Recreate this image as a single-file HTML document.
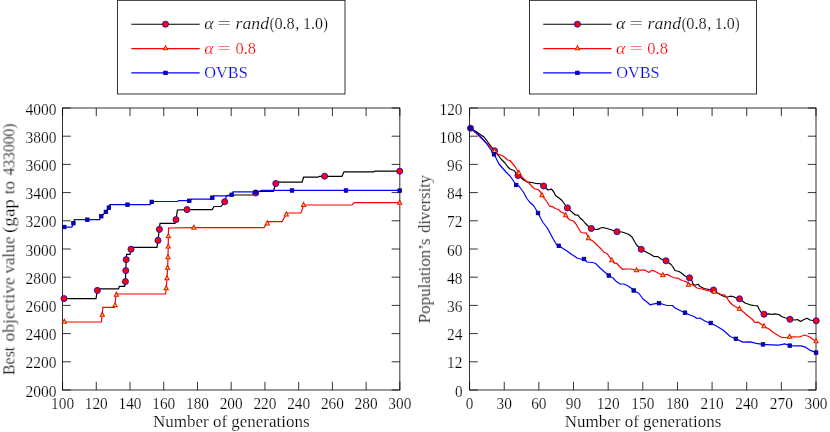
<!DOCTYPE html>
<html><head><meta charset="utf-8"><title>Figure</title>
<style>
html,body{margin:0;padding:0;background:#fff;}
body{width:830px;height:432px;overflow:hidden;font-family:"Liberation Serif",serif;}
svg{display:block;}
text{font-family:"Liberation Serif",serif;font-size:15.6px;filter:url(#tb);stroke:#fff;stroke-width:0.2px;}
.i{font-style:italic;}
</style></head><body>
<svg width="830" height="432" viewBox="0 0 830 432">
<defs><filter id="tb" x="-5%" y="-20%" width="110%" height="140%"><feGaussianBlur stdDeviation="0.3"/></filter></defs>
<rect width="830" height="432" fill="#fff"/>
<rect x="117.6" y="0.3" width="227.4" height="93.7" fill="#fff" stroke="#000" stroke-width="0.8"/>
<path d="M131.3,24.2H199.7" stroke="#000" stroke-width="1.15"/>
<path d="M131.3,48.6H199.7" stroke="#f00" stroke-width="1.15"/>
<path d="M131.3,72.9H199.7" stroke="#00f" stroke-width="1.15"/>
<circle cx="165.5" cy="24.2" r="3.05" fill="#f00" stroke="#1010d0" stroke-width="0.9"/>
<path d="M165.5,45.75L167.62,49.8L163.38,49.8Z" fill="#ffee00" stroke="#e21414" stroke-width="1.02" stroke-linejoin="miter"/>
<rect x="163.75" y="71.15" width="3.5" height="3.5" fill="#0000f0" stroke="#000068" stroke-width="0.8"/>
<text x="204.2" y="28.8" fill="#000" class="i" style="font-size:17px" textLength="9.4" lengthAdjust="spacingAndGlyphs">α</text>
<text x="217.6" y="28.8" fill="#000" style="font-size:17px" textLength="13.6" lengthAdjust="spacingAndGlyphs">=</text>
<text x="204.2" y="53.5" fill="#f00" class="i" style="font-size:17px" textLength="9.4" lengthAdjust="spacingAndGlyphs">α</text>
<text x="217.6" y="53.5" fill="#f00" style="font-size:17px" textLength="13.6" lengthAdjust="spacingAndGlyphs">=</text>
<text x="235.6" y="28.8" fill="#000" class="i" style="font-size:17px" textLength="33.5" lengthAdjust="spacingAndGlyphs">rand</text>
<text x="269.8" y="28.8" fill="#000" style="font-size:17px" textLength="4.6" lengthAdjust="spacingAndGlyphs">(</text>
<text x="274.4" y="28.8" fill="#000" style="font-size:16.4px" textLength="20.4" lengthAdjust="spacingAndGlyphs">0.8</text>
<text x="295.6" y="28.8" fill="#000" style="font-size:16.4px" textLength="3.8" lengthAdjust="spacingAndGlyphs">,</text>
<text x="302.9" y="28.8" fill="#000" style="font-size:16.4px" textLength="20.0" lengthAdjust="spacingAndGlyphs">1.0</text>
<text x="323.2" y="28.8" fill="#000" style="font-size:17px" textLength="4.6" lengthAdjust="spacingAndGlyphs">)</text>
<text x="235.4" y="53.5" fill="#f00" style="font-size:16.4px" textLength="20.6" lengthAdjust="spacingAndGlyphs">0.8</text>
<text x="204.3" y="78.3" fill="#00f" style="font-size:17px" textLength="43.4" lengthAdjust="spacingAndGlyphs">OVBS</text>
<rect x="529.6" y="0.3" width="227" height="93.7" fill="#fff" stroke="#000" stroke-width="0.8"/>
<path d="M543.2,24.2H611.6" stroke="#000" stroke-width="1.15"/>
<path d="M543.2,48.6H611.6" stroke="#f00" stroke-width="1.15"/>
<path d="M543.2,72.9H611.6" stroke="#00f" stroke-width="1.15"/>
<circle cx="577.4" cy="24.2" r="3.05" fill="#f00" stroke="#1010d0" stroke-width="0.9"/>
<path d="M577.4,45.75L579.52,49.8L575.28,49.8Z" fill="#ffee00" stroke="#e21414" stroke-width="1.02" stroke-linejoin="miter"/>
<rect x="575.65" y="71.15" width="3.5" height="3.5" fill="#0000f0" stroke="#000068" stroke-width="0.8"/>
<text x="616.1" y="28.8" fill="#000" class="i" style="font-size:17px" textLength="9.4" lengthAdjust="spacingAndGlyphs">α</text>
<text x="629.5" y="28.8" fill="#000" style="font-size:17px" textLength="13.6" lengthAdjust="spacingAndGlyphs">=</text>
<text x="616.1" y="53.5" fill="#f00" class="i" style="font-size:17px" textLength="9.4" lengthAdjust="spacingAndGlyphs">α</text>
<text x="629.5" y="53.5" fill="#f00" style="font-size:17px" textLength="13.6" lengthAdjust="spacingAndGlyphs">=</text>
<text x="647.5" y="28.8" fill="#000" class="i" style="font-size:17px" textLength="33.5" lengthAdjust="spacingAndGlyphs">rand</text>
<text x="681.7" y="28.8" fill="#000" style="font-size:17px" textLength="4.6" lengthAdjust="spacingAndGlyphs">(</text>
<text x="686.3" y="28.8" fill="#000" style="font-size:16.4px" textLength="20.4" lengthAdjust="spacingAndGlyphs">0.8</text>
<text x="707.5" y="28.8" fill="#000" style="font-size:16.4px" textLength="3.8" lengthAdjust="spacingAndGlyphs">,</text>
<text x="714.8" y="28.8" fill="#000" style="font-size:16.4px" textLength="20.0" lengthAdjust="spacingAndGlyphs">1.0</text>
<text x="735.1" y="28.8" fill="#000" style="font-size:17px" textLength="4.6" lengthAdjust="spacingAndGlyphs">)</text>
<text x="647.3" y="53.5" fill="#f00" style="font-size:16.4px" textLength="20.6" lengthAdjust="spacingAndGlyphs">0.8</text>
<text x="616.2" y="78.3" fill="#00f" style="font-size:17px" textLength="43.4" lengthAdjust="spacingAndGlyphs">OVBS</text>
<rect x="62.55" y="108.0" width="337.3" height="282" fill="none" stroke="#000" stroke-width="0.8"/>
<path d="M62.55,390.0v-8.2M62.55,108.0v8.2M96.28,390.0v-8.2M96.28,108.0v8.2M130.01,390.0v-8.2M130.01,108.0v8.2M163.74,390.0v-8.2M163.74,108.0v8.2M197.47,390.0v-8.2M197.47,108.0v8.2M231.2,390.0v-8.2M231.2,108.0v8.2M264.93,390.0v-8.2M264.93,108.0v8.2M298.66,390.0v-8.2M298.66,108.0v8.2M332.39,390.0v-8.2M332.39,108.0v8.2M366.12,390.0v-8.2M366.12,108.0v8.2M399.85,390.0v-8.2M399.85,108.0v8.2M62.55,390h8.2M399.85,390h-8.2M62.55,361.8h8.2M399.85,361.8h-8.2M62.55,333.6h8.2M399.85,333.6h-8.2M62.55,305.4h8.2M399.85,305.4h-8.2M62.55,277.2h8.2M399.85,277.2h-8.2M62.55,249h8.2M399.85,249h-8.2M62.55,220.8h8.2M399.85,220.8h-8.2M62.55,192.6h8.2M399.85,192.6h-8.2M62.55,164.4h8.2M399.85,164.4h-8.2M62.55,136.2h8.2M399.85,136.2h-8.2M62.55,108h8.2M399.85,108h-8.2" stroke="#000" stroke-width="0.8" fill="none"/>
<rect x="469.6" y="108.0" width="346.4" height="282" fill="none" stroke="#000" stroke-width="0.8"/>
<path d="M469.6,390.0v-8.2M469.6,108.0v8.2M504.24,390.0v-8.2M504.24,108.0v8.2M538.88,390.0v-8.2M538.88,108.0v8.2M573.52,390.0v-8.2M573.52,108.0v8.2M608.16,390.0v-8.2M608.16,108.0v8.2M642.8,390.0v-8.2M642.8,108.0v8.2M677.44,390.0v-8.2M677.44,108.0v8.2M712.08,390.0v-8.2M712.08,108.0v8.2M746.72,390.0v-8.2M746.72,108.0v8.2M781.36,390.0v-8.2M781.36,108.0v8.2M816,390.0v-8.2M816,108.0v8.2M469.6,390h8.2M816.0,390h-8.2M469.6,361.8h8.2M816.0,361.8h-8.2M469.6,333.6h8.2M816.0,333.6h-8.2M469.6,305.4h8.2M816.0,305.4h-8.2M469.6,277.2h8.2M816.0,277.2h-8.2M469.6,249h8.2M816.0,249h-8.2M469.6,220.8h8.2M816.0,220.8h-8.2M469.6,192.6h8.2M816.0,192.6h-8.2M469.6,164.4h8.2M816.0,164.4h-8.2M469.6,136.2h8.2M816.0,136.2h-8.2M469.6,108h8.2M816.0,108h-8.2" stroke="#000" stroke-width="0.8" fill="none"/>
<text x="56.5" y="396.5" text-anchor="end" fill="#000" textLength="31" lengthAdjust="spacingAndGlyphs" style="font-size:16.4px">2000</text>
<text x="56.5" y="368.3" text-anchor="end" fill="#000" textLength="31" lengthAdjust="spacingAndGlyphs" style="font-size:16.4px">2200</text>
<text x="56.5" y="340.1" text-anchor="end" fill="#000" textLength="31" lengthAdjust="spacingAndGlyphs" style="font-size:16.4px">2400</text>
<text x="56.5" y="311.9" text-anchor="end" fill="#000" textLength="31" lengthAdjust="spacingAndGlyphs" style="font-size:16.4px">2600</text>
<text x="56.5" y="283.7" text-anchor="end" fill="#000" textLength="31" lengthAdjust="spacingAndGlyphs" style="font-size:16.4px">2800</text>
<text x="56.5" y="255.5" text-anchor="end" fill="#000" textLength="31" lengthAdjust="spacingAndGlyphs" style="font-size:16.4px">3000</text>
<text x="56.5" y="227.3" text-anchor="end" fill="#000" textLength="31" lengthAdjust="spacingAndGlyphs" style="font-size:16.4px">3200</text>
<text x="56.5" y="199.1" text-anchor="end" fill="#000" textLength="31" lengthAdjust="spacingAndGlyphs" style="font-size:16.4px">3400</text>
<text x="56.5" y="170.9" text-anchor="end" fill="#000" textLength="31" lengthAdjust="spacingAndGlyphs" style="font-size:16.4px">3600</text>
<text x="56.5" y="142.7" text-anchor="end" fill="#000" textLength="31" lengthAdjust="spacingAndGlyphs" style="font-size:16.4px">3800</text>
<text x="56.5" y="114.5" text-anchor="end" fill="#000" textLength="31" lengthAdjust="spacingAndGlyphs" style="font-size:16.4px">4000</text>
<text x="62.55" y="409" text-anchor="middle" fill="#000" textLength="23" lengthAdjust="spacingAndGlyphs" style="font-size:16.4px">100</text>
<text x="96.28" y="409" text-anchor="middle" fill="#000" textLength="23" lengthAdjust="spacingAndGlyphs" style="font-size:16.4px">120</text>
<text x="130.01" y="409" text-anchor="middle" fill="#000" textLength="23" lengthAdjust="spacingAndGlyphs" style="font-size:16.4px">140</text>
<text x="163.74" y="409" text-anchor="middle" fill="#000" textLength="23" lengthAdjust="spacingAndGlyphs" style="font-size:16.4px">160</text>
<text x="197.47" y="409" text-anchor="middle" fill="#000" textLength="23" lengthAdjust="spacingAndGlyphs" style="font-size:16.4px">180</text>
<text x="231.2" y="409" text-anchor="middle" fill="#000" textLength="23" lengthAdjust="spacingAndGlyphs" style="font-size:16.4px">200</text>
<text x="264.93" y="409" text-anchor="middle" fill="#000" textLength="23" lengthAdjust="spacingAndGlyphs" style="font-size:16.4px">220</text>
<text x="298.66" y="409" text-anchor="middle" fill="#000" textLength="23" lengthAdjust="spacingAndGlyphs" style="font-size:16.4px">240</text>
<text x="332.39" y="409" text-anchor="middle" fill="#000" textLength="23" lengthAdjust="spacingAndGlyphs" style="font-size:16.4px">260</text>
<text x="366.12" y="409" text-anchor="middle" fill="#000" textLength="23" lengthAdjust="spacingAndGlyphs" style="font-size:16.4px">280</text>
<text x="399.85" y="409" text-anchor="middle" fill="#000" textLength="23" lengthAdjust="spacingAndGlyphs" style="font-size:16.4px">300</text>
<text x="231.3" y="426.8" text-anchor="middle" fill="#000" textLength="156.6" lengthAdjust="spacingAndGlyphs" style="font-size:17px">Number of generations</text>
<text transform="translate(14.4,375.1) rotate(-90)" style="font-size:17px" textLength="28.3" lengthAdjust="spacingAndGlyphs">Best</text>
<text transform="translate(14.4,341.5) rotate(-90)" style="font-size:17px" textLength="64.2" lengthAdjust="spacingAndGlyphs">objective</text>
<text transform="translate(14.4,273.6) rotate(-90)" style="font-size:17px" textLength="37" lengthAdjust="spacingAndGlyphs">value</text>
<text transform="translate(14.4,233) rotate(-90)" style="font-size:17px" textLength="33.9" lengthAdjust="spacingAndGlyphs">(gap</text>
<text transform="translate(14.4,194.3) rotate(-90)" style="font-size:17px" textLength="13.1" lengthAdjust="spacingAndGlyphs">to</text>
<text transform="translate(14.4,175.5) rotate(-90)" style="font-size:17px" textLength="52.05" lengthAdjust="spacingAndGlyphs">433000)</text>
<text x="462.5" y="396.5" text-anchor="end" fill="#000" textLength="7.6" lengthAdjust="spacingAndGlyphs" style="font-size:16.4px">0</text>
<text x="462.5" y="368.3" text-anchor="end" fill="#000" textLength="15.4" lengthAdjust="spacingAndGlyphs" style="font-size:16.4px">12</text>
<text x="462.5" y="340.1" text-anchor="end" fill="#000" textLength="15.4" lengthAdjust="spacingAndGlyphs" style="font-size:16.4px">24</text>
<text x="462.5" y="311.9" text-anchor="end" fill="#000" textLength="15.4" lengthAdjust="spacingAndGlyphs" style="font-size:16.4px">36</text>
<text x="462.5" y="283.7" text-anchor="end" fill="#000" textLength="15.4" lengthAdjust="spacingAndGlyphs" style="font-size:16.4px">48</text>
<text x="462.5" y="255.5" text-anchor="end" fill="#000" textLength="15.4" lengthAdjust="spacingAndGlyphs" style="font-size:16.4px">60</text>
<text x="462.5" y="227.3" text-anchor="end" fill="#000" textLength="15.4" lengthAdjust="spacingAndGlyphs" style="font-size:16.4px">72</text>
<text x="462.5" y="199.1" text-anchor="end" fill="#000" textLength="15.4" lengthAdjust="spacingAndGlyphs" style="font-size:16.4px">84</text>
<text x="462.5" y="170.9" text-anchor="end" fill="#000" textLength="15.4" lengthAdjust="spacingAndGlyphs" style="font-size:16.4px">96</text>
<text x="462.5" y="142.7" text-anchor="end" fill="#000" textLength="23" lengthAdjust="spacingAndGlyphs" style="font-size:16.4px">108</text>
<text x="462.5" y="114.5" text-anchor="end" fill="#000" textLength="23" lengthAdjust="spacingAndGlyphs" style="font-size:16.4px">120</text>
<text x="469.6" y="409" text-anchor="middle" fill="#000" textLength="7.6" lengthAdjust="spacingAndGlyphs" style="font-size:16.4px">0</text>
<text x="504.24" y="409" text-anchor="middle" fill="#000" textLength="15.4" lengthAdjust="spacingAndGlyphs" style="font-size:16.4px">30</text>
<text x="538.88" y="409" text-anchor="middle" fill="#000" textLength="15.4" lengthAdjust="spacingAndGlyphs" style="font-size:16.4px">60</text>
<text x="573.52" y="409" text-anchor="middle" fill="#000" textLength="15.4" lengthAdjust="spacingAndGlyphs" style="font-size:16.4px">90</text>
<text x="608.16" y="409" text-anchor="middle" fill="#000" textLength="23" lengthAdjust="spacingAndGlyphs" style="font-size:16.4px">120</text>
<text x="642.8" y="409" text-anchor="middle" fill="#000" textLength="23" lengthAdjust="spacingAndGlyphs" style="font-size:16.4px">150</text>
<text x="677.44" y="409" text-anchor="middle" fill="#000" textLength="23" lengthAdjust="spacingAndGlyphs" style="font-size:16.4px">180</text>
<text x="712.08" y="409" text-anchor="middle" fill="#000" textLength="23" lengthAdjust="spacingAndGlyphs" style="font-size:16.4px">210</text>
<text x="746.72" y="409" text-anchor="middle" fill="#000" textLength="23" lengthAdjust="spacingAndGlyphs" style="font-size:16.4px">240</text>
<text x="781.36" y="409" text-anchor="middle" fill="#000" textLength="23" lengthAdjust="spacingAndGlyphs" style="font-size:16.4px">270</text>
<text x="816" y="409" text-anchor="middle" fill="#000" textLength="23" lengthAdjust="spacingAndGlyphs" style="font-size:16.4px">300</text>
<text x="643.1" y="426.8" text-anchor="middle" fill="#000" textLength="156.6" lengthAdjust="spacingAndGlyphs" style="font-size:17px">Number of generations</text>
<text transform="translate(429.9,323.4) rotate(-90)" style="font-size:17px" textLength="84.95" lengthAdjust="spacingAndGlyphs">Population’s</text>
<text transform="translate(429.9,232.8) rotate(-90)" style="font-size:17px" textLength="57.9" lengthAdjust="spacingAndGlyphs">diversity</text>
<path d="M64,298.6L96,298.6L97.4,290.4L97.8,288.8L118.6,288.8L119.4,286.4L124.6,286.4L125.4,281.6L125.8,270.6L126.2,259.6L126.6,254.4L130,254.4L131,249.2L131.6,247.4L157,247.4L158,240L159.4,229L160,223.4L175,223.4L176,219.6L177.4,210L187,209.6L212.2,209.6L214,206.5L221,206.5L224.7,201.7L226.5,195.7L229.3,195L253,195L255.7,193L259,191.5L273.3,191.5L275.8,183.5L276.4,182.2L302,182.2L303.6,177.2L318,177.2L319.5,176.3L342,176.3L344,171.8L373.8,171.8L375,171.2L399.7,171.2" fill="none" stroke="#000" stroke-width="1.2" stroke-linejoin="miter"/>
<path d="M64,322L101.4,322L102.2,314.4L102.8,307.4L114.6,307.4L115,305L116,294L165.6,294L166.2,288L167,278L167.6,267.6L168,257L168.2,246.4L168.4,236L168.6,228L193.9,227.7L264,227.7L267.2,223.2L268.9,221.7L282,221.7L286.3,214.2L287,213L301,213L303.6,205L352,205L354.4,202.6L399.7,202.6" fill="none" stroke="#f00" stroke-width="1.2" stroke-linejoin="miter"/>
<path d="M64.3,227.1L71.9,227.1L73.4,223.2L74.4,219.7L99.7,219.7L101.25,216.25L105.9,211.9L108.85,207.65L109.85,204.6L150.2,204.6L151.75,201.9L152.3,201.5L176.8,201.5L178.9,200.7L189.3,200.7L191.5,199.1L210.6,199.1L212.3,197.7L213.5,195.9L230,195.9L231.7,194.75L233,191.8L253.2,191.8L255.7,192L257.5,192L261.6,190.4L399.7,190.4" fill="none" stroke="#00f" stroke-width="1.2" stroke-linejoin="miter"/>
<circle cx="64" cy="298.6" r="3.05" fill="#f00" stroke="#1010d0" stroke-width="0.9"/><circle cx="97.4" cy="290.4" r="3.05" fill="#f00" stroke="#1010d0" stroke-width="0.9"/><circle cx="125.4" cy="281.6" r="3.05" fill="#f00" stroke="#1010d0" stroke-width="0.9"/><circle cx="125.8" cy="270.6" r="3.05" fill="#f00" stroke="#1010d0" stroke-width="0.9"/><circle cx="126.2" cy="259.6" r="3.05" fill="#f00" stroke="#1010d0" stroke-width="0.9"/><circle cx="131" cy="249.2" r="3.05" fill="#f00" stroke="#1010d0" stroke-width="0.9"/><circle cx="158" cy="240.4" r="3.05" fill="#f00" stroke="#1010d0" stroke-width="0.9"/><circle cx="159.4" cy="229.4" r="3.05" fill="#f00" stroke="#1010d0" stroke-width="0.9"/><circle cx="176" cy="219.6" r="3.05" fill="#f00" stroke="#1010d0" stroke-width="0.9"/><circle cx="187" cy="209.6" r="3.05" fill="#f00" stroke="#1010d0" stroke-width="0.9"/><circle cx="224.7" cy="201.7" r="3.05" fill="#f00" stroke="#1010d0" stroke-width="0.9"/><circle cx="255.7" cy="193" r="3.05" fill="#f00" stroke="#1010d0" stroke-width="0.9"/><circle cx="275.8" cy="183.5" r="3.05" fill="#f00" stroke="#1010d0" stroke-width="0.9"/><circle cx="324.6" cy="176.2" r="3.05" fill="#f00" stroke="#1010d0" stroke-width="0.9"/><circle cx="399.7" cy="171.2" r="3.05" fill="#f00" stroke="#1010d0" stroke-width="0.9"/>
<path d="M64.3,319.25L66.42,323.3L62.18,323.3Z" fill="#ffee00" stroke="#e21414" stroke-width="1.02" stroke-linejoin="miter"/><path d="M102.3,312.15L104.42,316.2L100.18,316.2Z" fill="#ffee00" stroke="#e21414" stroke-width="1.02" stroke-linejoin="miter"/><path d="M115.1,302.75L117.22,306.8L112.98,306.8Z" fill="#ffee00" stroke="#e21414" stroke-width="1.02" stroke-linejoin="miter"/><path d="M116.4,292.15L118.52,296.2L114.28,296.2Z" fill="#ffee00" stroke="#e21414" stroke-width="1.02" stroke-linejoin="miter"/><path d="M166.2,285.65L168.32,289.7L164.08,289.7Z" fill="#ffee00" stroke="#e21414" stroke-width="1.02" stroke-linejoin="miter"/><path d="M167,275.65L169.12,279.7L164.88,279.7Z" fill="#ffee00" stroke="#e21414" stroke-width="1.02" stroke-linejoin="miter"/><path d="M167.6,265.25L169.72,269.3L165.48,269.3Z" fill="#ffee00" stroke="#e21414" stroke-width="1.02" stroke-linejoin="miter"/><path d="M168,254.65L170.12,258.7L165.88,258.7Z" fill="#ffee00" stroke="#e21414" stroke-width="1.02" stroke-linejoin="miter"/><path d="M168.2,244.05L170.32,248.1L166.08,248.1Z" fill="#ffee00" stroke="#e21414" stroke-width="1.02" stroke-linejoin="miter"/><path d="M168.4,233.65L170.52,237.7L166.28,237.7Z" fill="#ffee00" stroke="#e21414" stroke-width="1.02" stroke-linejoin="miter"/><path d="M193.9,225.15L196.02,229.2L191.78,229.2Z" fill="#ffee00" stroke="#e21414" stroke-width="1.02" stroke-linejoin="miter"/><path d="M267.2,220.85L269.32,224.9L265.08,224.9Z" fill="#ffee00" stroke="#e21414" stroke-width="1.02" stroke-linejoin="miter"/><path d="M286.3,211.85L288.42,215.9L284.18,215.9Z" fill="#ffee00" stroke="#e21414" stroke-width="1.02" stroke-linejoin="miter"/><path d="M303.6,202.45L305.72,206.5L301.48,206.5Z" fill="#ffee00" stroke="#e21414" stroke-width="1.02" stroke-linejoin="miter"/><path d="M399.7,200.15L401.82,204.2L397.58,204.2Z" fill="#ffee00" stroke="#e21414" stroke-width="1.02" stroke-linejoin="miter"/>
<rect x="62.55" y="225.25" width="3.5" height="3.5" fill="#0000f0" stroke="#000068" stroke-width="0.8"/><rect x="71.65" y="221.45" width="3.5" height="3.5" fill="#0000f0" stroke="#000068" stroke-width="0.8"/><rect x="85.55" y="217.95" width="3.5" height="3.5" fill="#0000f0" stroke="#000068" stroke-width="0.8"/><rect x="99.5" y="214.5" width="3.5" height="3.5" fill="#0000f0" stroke="#000068" stroke-width="0.8"/><rect x="104.15" y="210.15" width="3.5" height="3.5" fill="#0000f0" stroke="#000068" stroke-width="0.8"/><rect x="107.1" y="205.9" width="3.5" height="3.5" fill="#0000f0" stroke="#000068" stroke-width="0.8"/><rect x="125.75" y="202.95" width="3.5" height="3.5" fill="#0000f0" stroke="#000068" stroke-width="0.8"/><rect x="150" y="200.15" width="3.5" height="3.5" fill="#0000f0" stroke="#000068" stroke-width="0.8"/><rect x="187.55" y="199.05" width="3.5" height="3.5" fill="#0000f0" stroke="#000068" stroke-width="0.8"/><rect x="210.55" y="195.95" width="3.5" height="3.5" fill="#0000f0" stroke="#000068" stroke-width="0.8"/><rect x="229.95" y="193" width="3.5" height="3.5" fill="#0000f0" stroke="#000068" stroke-width="0.8"/><rect x="253.95" y="190.45" width="3.5" height="3.5" fill="#0000f0" stroke="#000068" stroke-width="0.8"/><rect x="290.25" y="188.75" width="3.5" height="3.5" fill="#0000f0" stroke="#000068" stroke-width="0.8"/><rect x="344.25" y="188.75" width="3.5" height="3.5" fill="#0000f0" stroke="#000068" stroke-width="0.8"/><rect x="397.95" y="188.85" width="3.5" height="3.5" fill="#0000f0" stroke="#000068" stroke-width="0.8"/>
<path d="M470.5,128.2L476,131.5L481,135L484,137L490,145L494.5,150.8L498.5,155.5L501,159L505,163L507.5,166.5L510,169L514,170.5L518,175.5L522,178.5L523.5,180L527,181.8L532,182.5L536,183.5L540,183.7L543.6,186L548,190L551.5,189.2L553.5,191.5L555.5,195.5L559,198L562,200.5L564.5,204L567.4,207.9L573,213L575,214.8L578,215.2L580,218L583,220.5L585,223L588,226L591.3,228.5L596,229.5L598.5,229.2L600.5,228L603,227.5L607,228.5L611,229.8L617,231.7L622,232L625,233L629,234.5L632,237L634.5,241.5L637,245.5L641.2,249.3L646,252L650,254L654,256.5L658,256.6L661,259L666,260.8L671,264.5L673,267L675,270.5L679,271.5L682,273.5L685,276L689.5,277.8L692,281L693,284L695,285.2L698,284.2L700,286.5L704,288.5L709,289.5L713.5,290L717,292.5L720,294.5L724,296.5L727,297.2L730,296.2L733,296.5L736,298L739.5,298.8L745,303L750,304.8L754,305.5L757.5,305.8L759.5,310L761.5,312.8L764,314.2L769,313.8L772,314.5L774.5,313.8L779,314.5L781.5,316.5L785,317.8L790,319.3L795,320L797.5,319.5L800.5,321.5L804,319.5L807,318.2L810,320L813,320.5L816.2,320.8" fill="none" stroke="#000" stroke-width="1.2" stroke-linejoin="round"/>
<path d="M470.5,128.2L476,133L481,138L487,143.5L491,147.5L494.5,151.2L498,154.2L502,155.5L505,157.5L507.5,160L510,160.5L512.5,163.5L515,166.5L518.8,173L521,176L523,178L526,181L529,183L532,186.5L534.5,188.8L538,189.5L540.5,192L542,195.3L544.5,198.5L547.5,202.5L549.5,206.2L553,206.8L555,208.5L558.5,209.5L561,212L563.5,213L565.7,215.4L567.5,218L570,220L573.5,221L576,224L578.5,228.5L581,232.5L584,233L586,232.8L587.5,235.5L588.5,238.4L592,240.5L595,243L598,246L601,248.8L604,252.3L607,253.5L609.5,257L611.8,260.5L615,263.5L616.5,263L619.5,266.5L622.5,269.3L626,269L630,269L633,269.5L636.5,270.4L640,270.2L645,270.2L649,272.5L651.5,270.4L654,270.8L658,273L662.8,275.2L667.5,274.3L671,276.5L675,278L678,278.2L682,280.5L686,281.5L688.5,283.5L693,285L697,288L702,289L709,290.8L714.3,292L718,293L721,294.5L724,294.8L726,296.5L729,301L732,304.5L735,306.5L739.5,308.9L744,312.5L748,316L752,319L755,322.5L758.5,322.2L761.5,324.5L764,326.5L769,329L772,331.5L775,333.5L779,336L782,337.5L786,337.5L789.6,337L794,336.8L799,337L802,336L804.5,335L808,336.2L811,337.8L813.4,339.8L816.1,341.4" fill="none" stroke="#f00" stroke-width="1.2" stroke-linejoin="round"/>
<path d="M470.5,128.2L476,132.5L481,137L486,143L490,148.5L494,154.3L496,158L499,164L502,167.5L506,172L510,176L512.5,179.5L516.2,185L518.5,185.5L520,187.5L524,193L526.5,198L529.5,202L533.5,205.5L536,209.5L538,213L540.5,218L543,222.5L547,227.5L550,233L553.5,239.5L556.5,244.5L558.8,245.8L563,248.5L567,251L571,254L575,256.5L577,258L581,259.2L584,259L587,262L592,262.5L594.5,263L596,263.8L600,268L604,271.5L608.8,275.5L613,278L616,281.2L620,284L624,284L628,286L631,288L633.7,290.5L639,293.5L643,299L647,302L650,304.8L654,303.8L659,303.2L662,304L667,305.5L672.5,305.5L675,308L680,310.5L685,312.7L690,315L694,316.5L697,318.5L700,318L704,320.5L707,322L710.7,323L715.5,325.5L723,330L730.6,336.8L735.9,338.8L742.7,342.1L750.2,341.8L756.2,343.3L763,344.4L771.3,344.8L778.8,345.1L784.8,343.9L789.8,345.6L795.4,345.9L801.4,345.9L805.9,347.4L810.4,350.4L816.1,352.6" fill="none" stroke="#00f" stroke-width="1.2" stroke-linejoin="round"/>
<circle cx="470.5" cy="128.2" r="3.05" fill="#f00" stroke="#1010d0" stroke-width="0.9"/><circle cx="494.5" cy="150.8" r="3.05" fill="#f00" stroke="#1010d0" stroke-width="0.9"/><circle cx="518" cy="175.5" r="3.05" fill="#f00" stroke="#1010d0" stroke-width="0.9"/><circle cx="543.6" cy="186" r="3.05" fill="#f00" stroke="#1010d0" stroke-width="0.9"/><circle cx="567.4" cy="207.9" r="3.05" fill="#f00" stroke="#1010d0" stroke-width="0.9"/><circle cx="591.3" cy="228.5" r="3.05" fill="#f00" stroke="#1010d0" stroke-width="0.9"/><circle cx="617" cy="231.7" r="3.05" fill="#f00" stroke="#1010d0" stroke-width="0.9"/><circle cx="641.2" cy="249.3" r="3.05" fill="#f00" stroke="#1010d0" stroke-width="0.9"/><circle cx="666" cy="260.8" r="3.05" fill="#f00" stroke="#1010d0" stroke-width="0.9"/><circle cx="689.5" cy="277.8" r="3.05" fill="#f00" stroke="#1010d0" stroke-width="0.9"/><circle cx="713.5" cy="290" r="3.05" fill="#f00" stroke="#1010d0" stroke-width="0.9"/><circle cx="739.5" cy="298.8" r="3.05" fill="#f00" stroke="#1010d0" stroke-width="0.9"/><circle cx="764" cy="314.2" r="3.05" fill="#f00" stroke="#1010d0" stroke-width="0.9"/><circle cx="790" cy="319.3" r="3.05" fill="#f00" stroke="#1010d0" stroke-width="0.9"/><circle cx="816.2" cy="320.8" r="3.05" fill="#f00" stroke="#1010d0" stroke-width="0.9"/>
<path d="M470.5,125.35L472.62,129.4L468.38,129.4Z" fill="#ffee00" stroke="#e21414" stroke-width="1.02" stroke-linejoin="miter"/><path d="M494.5,148.55L496.62,152.6L492.38,152.6Z" fill="#ffee00" stroke="#e21414" stroke-width="1.02" stroke-linejoin="miter"/><path d="M518.8,170.35L520.92,174.4L516.68,174.4Z" fill="#ffee00" stroke="#e21414" stroke-width="1.02" stroke-linejoin="miter"/><path d="M542,192.65L544.12,196.7L539.88,196.7Z" fill="#ffee00" stroke="#e21414" stroke-width="1.02" stroke-linejoin="miter"/><path d="M565.7,212.65L567.82,216.7L563.58,216.7Z" fill="#ffee00" stroke="#e21414" stroke-width="1.02" stroke-linejoin="miter"/><path d="M588.5,235.65L590.62,239.7L586.38,239.7Z" fill="#ffee00" stroke="#e21414" stroke-width="1.02" stroke-linejoin="miter"/><path d="M611.8,257.75L613.92,261.8L609.68,261.8Z" fill="#ffee00" stroke="#e21414" stroke-width="1.02" stroke-linejoin="miter"/><path d="M636.5,267.75L638.62,271.8L634.38,271.8Z" fill="#ffee00" stroke="#e21414" stroke-width="1.02" stroke-linejoin="miter"/><path d="M662.8,272.65L664.92,276.7L660.68,276.7Z" fill="#ffee00" stroke="#e21414" stroke-width="1.02" stroke-linejoin="miter"/><path d="M688.5,282.15L690.62,286.2L686.38,286.2Z" fill="#ffee00" stroke="#e21414" stroke-width="1.02" stroke-linejoin="miter"/><path d="M714.3,289.25L716.42,293.3L712.18,293.3Z" fill="#ffee00" stroke="#e21414" stroke-width="1.02" stroke-linejoin="miter"/><path d="M739.5,306.15L741.62,310.2L737.38,310.2Z" fill="#ffee00" stroke="#e21414" stroke-width="1.02" stroke-linejoin="miter"/><path d="M764,323.65L766.12,327.7L761.88,327.7Z" fill="#ffee00" stroke="#e21414" stroke-width="1.02" stroke-linejoin="miter"/><path d="M789.6,334.25L791.72,338.3L787.48,338.3Z" fill="#ffee00" stroke="#e21414" stroke-width="1.02" stroke-linejoin="miter"/><path d="M816.1,338.75L818.22,342.8L813.98,342.8Z" fill="#ffee00" stroke="#e21414" stroke-width="1.02" stroke-linejoin="miter"/>
<rect x="468.75" y="126.45" width="3.5" height="3.5" fill="#0000f0" stroke="#000068" stroke-width="0.8"/><rect x="492.25" y="152.55" width="3.5" height="3.5" fill="#0000f0" stroke="#000068" stroke-width="0.8"/><rect x="514.45" y="183.25" width="3.5" height="3.5" fill="#0000f0" stroke="#000068" stroke-width="0.8"/><rect x="536.25" y="211.25" width="3.5" height="3.5" fill="#0000f0" stroke="#000068" stroke-width="0.8"/><rect x="557.05" y="244.05" width="3.5" height="3.5" fill="#0000f0" stroke="#000068" stroke-width="0.8"/><rect x="582.25" y="257.25" width="3.5" height="3.5" fill="#0000f0" stroke="#000068" stroke-width="0.8"/><rect x="607.05" y="273.75" width="3.5" height="3.5" fill="#0000f0" stroke="#000068" stroke-width="0.8"/><rect x="631.95" y="288.75" width="3.5" height="3.5" fill="#0000f0" stroke="#000068" stroke-width="0.8"/><rect x="657.25" y="301.45" width="3.5" height="3.5" fill="#0000f0" stroke="#000068" stroke-width="0.8"/><rect x="683.25" y="310.95" width="3.5" height="3.5" fill="#0000f0" stroke="#000068" stroke-width="0.8"/><rect x="708.95" y="321.25" width="3.5" height="3.5" fill="#0000f0" stroke="#000068" stroke-width="0.8"/><rect x="734.15" y="337.05" width="3.5" height="3.5" fill="#0000f0" stroke="#000068" stroke-width="0.8"/><rect x="761.25" y="342.65" width="3.5" height="3.5" fill="#0000f0" stroke="#000068" stroke-width="0.8"/><rect x="788.05" y="343.85" width="3.5" height="3.5" fill="#0000f0" stroke="#000068" stroke-width="0.8"/><rect x="814.35" y="350.85" width="3.5" height="3.5" fill="#0000f0" stroke="#000068" stroke-width="0.8"/>
</svg></body></html>
